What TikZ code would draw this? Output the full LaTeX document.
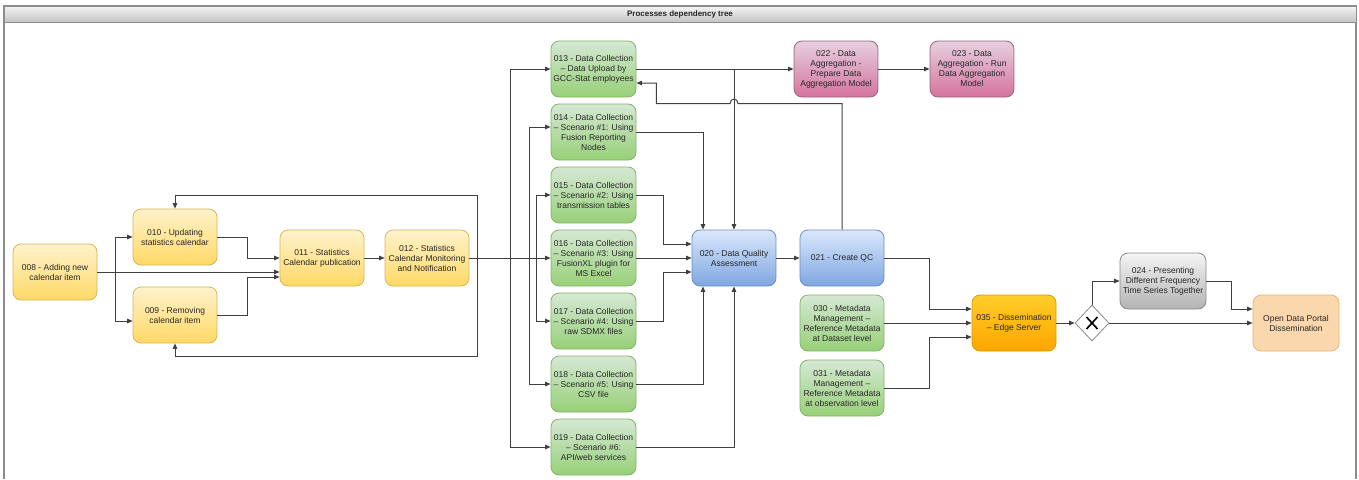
\documentclass[tikz,border=0pt]{standalone}
\usepackage{fontspec}
\setmainfont{Liberation Sans}
\usetikzlibrary{arrows.meta,shapes.geometric,calc}

% palette
\definecolor{yelT}{HTML}{FFF2CC}\definecolor{yelB}{HTML}{FFD966}\definecolor{yelD}{HTML}{D6B656}
\definecolor{grnT}{HTML}{D5E8D4}\definecolor{grnB}{HTML}{97D077}\definecolor{grnD}{HTML}{82B366}
\definecolor{bluT}{HTML}{DAE8FC}\definecolor{bluB}{HTML}{7EA6E0}\definecolor{bluD}{HTML}{6C8EBF}
\definecolor{pnkT}{HTML}{E6D0DE}\definecolor{pnkB}{HTML}{D5739D}\definecolor{pnkD}{HTML}{996185}
\definecolor{gryT}{HTML}{F5F5F5}\definecolor{gryB}{HTML}{B3B3B3}\definecolor{gryD}{HTML}{8A8A8A}
\definecolor{orgT}{HTML}{FFCD28}\definecolor{orgB}{HTML}{FFA500}\definecolor{orgD}{HTML}{D79B00}
\definecolor{peach}{HTML}{FAD7AC}\definecolor{peachD}{HTML}{E3B47C}
\definecolor{wire}{HTML}{404040}
\definecolor{txt}{HTML}{262626}
\definecolor{frameC}{HTML}{8C8C8C}
\definecolor{barT}{HTML}{F4F4F4}\definecolor{barB}{HTML}{C4C4C4}

\begin{document}
\begin{tikzpicture}[x=1pt,y=-1pt,
  box/.style={rounded corners=8pt, minimum width=84pt, minimum height=56pt,
    inner sep=1pt, align=center, text=txt, line width=0.8pt,
    font=\fontsize{8.5}{10}\selectfont},
  yel/.style={box, draw=yelD, top color=yelT, bottom color=yelB},
  grn/.style={box, draw=grnD, top color=grnT, bottom color=grnB, minimum width=85pt},
  blu/.style={box, draw=bluD, top color=bluT, bottom color=bluB},
  pnk/.style={box, draw=pnkD, top color=pnkT, bottom color=pnkB},
  gry/.style={box, draw=gryD, top color=gryT, bottom color=gryB, minimum width=86pt},
  org/.style={box, draw=orgD, top color=orgT, bottom color=orgB},
  pch/.style={box, draw=peachD, fill=peach, minimum width=86pt},
  gate/.style={diamond, draw=gryD, fill=white, line width=0.8pt,
    minimum width=34pt, minimum height=36pt, inner sep=0pt},
  arr/.style={draw=wire, line width=1pt, -{Triangle[length=5.5pt,width=4.5pt]}},
  titlebar/.style={draw=frameC, line width=0.8pt, top color=barT, bottom color=barB,
    minimum width=1352pt, minimum height=16pt, inner sep=0pt, text=txt,
    font=\bfseries\fontsize{8}{9}\selectfont},
]
\useasboundingbox (0,0) rectangle (1359,479);

% window frame and title
\draw[frameC, line width=1.2pt] (4,479) -- (4,6) -- (1356,6) -- (1356,479);
\node[titlebar] (title) at (680,14) {Processes dependency tree};

% calendar processes
\node[yel] (n008) at (55,272)  {008 - Adding new\\calendar item};
\node[yel] (n010) at (175,237) {010 - Updating\\statistics calendar};
\node[yel] (n009) at (175,315) {009 - Removing\\calendar item};
\node[yel] (n011) at (322,258) {011 - Statistics\\Calendar publication};
\node[yel] (n012) at (427,258) {012 - Statistics\\Calendar Monitoring\\and Notification};

% data collection scenarios
\node[grn] (n013) at (593.5,69)  {013 - Data Collection\\– Data Upload by\\GCC-Stat employees};
\node[grn] (n014) at (593.5,132) {014 - Data Collection\\– Scenario \#1: Using\\Fusion Reporting\\Nodes};
\node[grn] (n015) at (593.5,195) {015 - Data Collection\\– Scenario \#2: Using\\transmission tables};
\node[grn] (n016) at (593.5,258) {016 - Data Collection\\– Scenario \#3: Using\\FusionXL plugin for\\MS Excel};
\node[grn] (n017) at (593.5,321) {017 - Data Collection\\– Scenario \#4: Using\\raw SDMX files};
\node[grn] (n018) at (593.5,384) {018 - Data Collection\\– Scenario \#5: Using\\CSV file};
\node[grn] (n019) at (593.5,447) {019 - Data Collection\\– Scenario \#6:\\API/web services};

% quality, aggregation, metadata, dissemination
\node[blu] (n020) at (734,258) {020 - Data Quality\\Assessment};
\node[blu] (n021) at (842,258) {021 - Create QC};
\node[pnk] (n022) at (836,69)  {022 - Data\\Aggregation -\\Prepare Data\\Aggregation Model};
\node[pnk] (n023) at (972,69)  {023 - Data\\Aggregation - Run\\Data Aggregation\\Model};
\node[grn, minimum width=84pt] (n030) at (842,323) {030 - Metadata\\Management –\\Reference Metadata\\at Dataset level};
\node[grn, minimum width=84pt] (n031) at (842,388) {031 - Metadata\\Management –\\Reference Metadata\\at observation level};
\node[org] (n035) at (1014,323) {035 - Dissemination\\– Edge Server};
\node[gate] (gw) at (1092,323) {};
\draw[black, line width=1.6pt]
  ($(gw.center)+(-5.5,-6)$) -- ($(gw.center)+(5.5,6)$)
  ($(gw.center)+(-5.5,6)$) -- ($(gw.center)+(5.5,-6)$);
\node[gry] (n024) at (1163,281) {024 - Presenting\\Different Frequency\\Time Series Together};
\node[pch] (odp) at (1296,323) {Open Data Portal\\Dissemination};

% calendar flow
\draw[arr] (n008.east) -- (n008.east -| n011.west);
\draw[arr] (n008.east) -- ++(18,0) |- (n010.west);
\draw[arr] (n008.east) -- ++(18,0) |- ($(n009.west)+(0,6)$);
\draw[arr] (n010.east) -- ++(30,0) |- (n011.west);
\draw[arr] (n009.east) -- ++(30,0) |- ($(n011.west)+(0,19)$);
\draw[arr] (n011.east) -- (n012.west);
\draw[arr] (n012.east) -- ++(8,0) -- ++(0,-63) -| (n010.north);
\draw[arr] (n012.east) -- ++(8,0) -- ++(0,98) -| (n009.south);

% monitoring feeds every collection scenario
\draw[arr] (n012.east) -- ($(n012.east -| n013.west)+(-40,0)$) |- (n013.west);
\draw[arr] (n012.east) -- ($(n012.east -| n014.west)+(-21,0)$) |- ($(n014.west)+(0,-5)$);
\draw[arr] (n012.east) -- ($(n012.east -| n015.west)+(-14,0)$) |- (n015.west);
\draw[arr] (n012.east) -- (n016.west);
\draw[arr] (n012.east) -- ($(n012.east -| n017.west)+(-14,0)$) |- (n017.west);
\draw[arr] (n012.east) -- ($(n012.east -| n018.west)+(-21,0)$) |- (n018.west);
\draw[arr] (n012.east) -- ($(n012.east -| n019.west)+(-40,0)$) |- (n019.west);

% collection into quality assessment
\draw[arr] (n013.east) -- (n022.west);
\draw[arr] (n013.east) -| (n020.north);
\draw[arr] (n014.east) -| ($(n020.north)+(-31,0)$);
\draw[arr] (n015.east) -- ++(27,0) |- ($(n020.west)+(0,-14)$);
\draw[arr] (n016.east) -- (n020.west);
\draw[arr] (n017.east) -- ++(27,0) |- ($(n020.west)+(0,14)$);
\draw[arr] (n018.east) -| ($(n020.south)+(-31,0)$);
\draw[arr] (n019.east) -| (n020.south);

\draw[arr] (n020.east) -- (n021.west);
\draw[arr] (n022.east) -- (n023.west);

% QC feedback to data upload, hopping over the vertical line
\draw[arr] (n021.north) -- ++(0,-126) coordinate (h0)
  -- ($(h0 -| n020.north)+(4,0)$)
  .. controls +(0,-6) and +(0,-6) .. ($(h0 -| n020.north)+(-4,0)$)
  -- ($(h0 -| n013.east)+(20,0)$) |- ($(n013.east)+(0,14)$);

% dissemination
\draw[arr] (n021.east) -- ++(45,0) |- ($(n035.west)+(0,-14)$);
\draw[arr] (n030.east) -- (n035.west);
\draw[arr] (n031.east) -- ++(45,0) |- ($(n035.west)+(0,14)$);
\draw[arr] (n035.east) -- (gw.west);
\draw[arr] (gw.north) |- (n024.west);
\draw[arr] (gw.east) -- (odp.west);
\draw[arr] (n024.east) -- ++(25,0) |- ($(odp.west)+(0,-14)$);
\end{tikzpicture}
\end{document}
